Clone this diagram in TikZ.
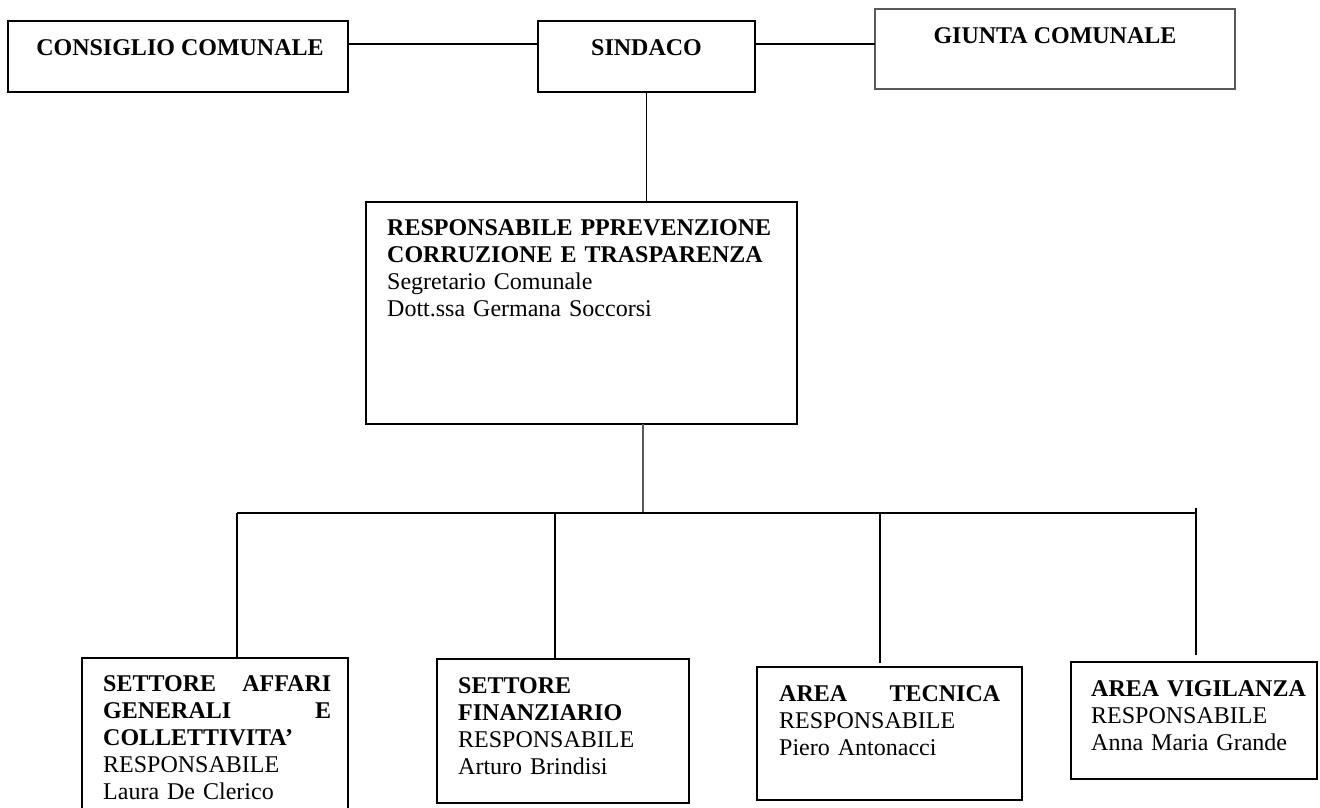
\documentclass[tikz,border=0pt]{standalone}
\usepackage{fontspec}
\setmainfont{Liberation Serif}
\usetikzlibrary{calc}
\begin{document}
\begin{tikzpicture}[x=1pt,y=-1pt,
  box/.style={draw=black, line width=1.8pt, inner sep=0pt, outer sep=0pt},
  thinbox/.style={draw=black!65, line width=1.1pt, inner sep=0pt, outer sep=0pt},
  conn/.style={draw=black, line width=1.6pt},
  hubline/.style={draw=black!65, line width=2.6pt},
  lab/.style={inner sep=0pt, anchor=base, font=\fontsize{24}{27}\selectfont\bfseries},
  txt/.style={inner sep=0pt, anchor=base west, align=left, font=\fontsize{24}{27}\selectfont}]
\useasboundingbox (0,0) rectangle (1320,807);
% boxes
\node[box, minimum width=340pt, minimum height=71pt] (cons) at (178,56.5) {};
\node[box, minimum width=217pt, minimum height=71pt] (sind) at (646.5,56.5) {};
\node[thinbox, minimum width=360pt, minimum height=80pt] (giun) at (1055,49) {};
\node[box, minimum width=431pt, minimum height=222pt] (resp) at (581.5,313) {};
\node[box, minimum width=266pt, minimum height=172pt] (b1) at (215,744) {};
\node[box, minimum width=252pt, minimum height=144pt] (b2) at (563,731) {};
\node[box, minimum width=265pt, minimum height=133pt] (b3) at (889.5,733.5) {};
\node[box, minimum width=246pt, minimum height=117pt] (b4) at (1194,720.5) {};
% texts
\node[lab] (consT) at (180,55) {CONSIGLIO COMUNALE};
\node[lab] (sindT) at (646.5,55) {SINDACO};
\node[lab] (giunT) at (1055,43) {GIUNTA COMUNALE};
\node[txt, text width=420pt] (respT) at (387,235)
  {{\bfseries RESPONSABILE PPREVENZIONE\\CORRUZIONE E TRASPARENZA}\\Segretario Comunale\\Dott.ssa Germana Soccorsi};
\node[txt, text width=228pt] (t1) at (103,691)
  {{\bfseries SETTORE\hfill AFFARI\\GENERALI\hfill E\\COLLETTIVITA'}\\RESPONSABILE\\Laura De Clerico};
\node[txt, text width=222pt] (t2) at (458,693)
  {{\bfseries SETTORE\\FINANZIARIO}\\RESPONSABILE\\Arturo Brindisi};
\node[txt, text width=221pt] (t3) at (779,701)
  {{\bfseries AREA\hfill TECNICA}\\RESPONSABILE\\Piero Antonacci};
\node[txt, text width=220pt] (t4) at (1091,696)
  {{\bfseries AREA VIGILANZA}\\RESPONSABILE\\Anna Maria Grande};
% connectors
\coordinate (cc) at ([yshift=-23pt]cons.north east);
\coordinate (cs) at ([yshift=-23pt]sind.north east);
\draw[conn] (cc) -- (cc -| sind.west);
\draw[conn] (cs) -- (cs -| giun.west);
\draw[conn] (sind.south) -- (sind.south |- resp.north);
\coordinate (hub) at (643,513);
\draw[hubline] (resp.south -| hub) -- (hub);
\coordinate (d1) at (237,513);
\coordinate (d2) at (555,513);
\coordinate (d3) at (880,513);
\coordinate (d4) at (1196,513);
\draw[conn] (d1) -- (d4);
\draw[conn] (d1) -- (d1 |- b1.north);
\draw[conn] (d2) -- (d2 |- b2.north);
\draw[conn] (d3) -- ($(d3 |- b3.north)+(0,-4)$);
\draw[conn] ($(d4)+(0,-5)$) -- ($(d4 |- b4.north)+(0,-7)$);
\end{tikzpicture}
\end{document}
